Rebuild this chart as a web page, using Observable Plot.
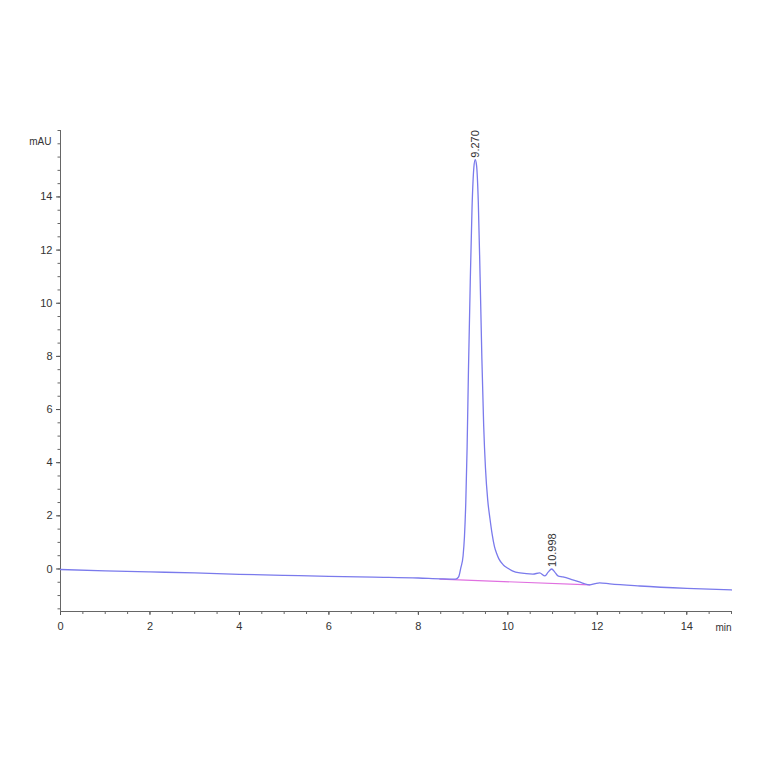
<!DOCTYPE html>
<html>
<head>
<meta charset="utf-8">
<script src="https://cdn.jsdelivr.net/npm/d3@7"></script>
<script src="https://cdn.jsdelivr.net/npm/@observablehq/plot@0.6"></script>
<style>
  html, body { margin: 0; padding: 0; background: #fff; }
  #chart { width: 764px; height: 764px; }
</style>
</head>
<body>
<div id="chart"></div>
<script>
// Chromatogram trace (time in min, absorbance in mAU)
const times = [0, 1, 2, 3, 4, 5, 6, 7, 8, 8.5, 8.8, 8.85, 8.9, 8.95, 9.0, 9.03, 9.06, 9.09, 9.12, 9.16, 9.2, 9.24, 9.27, 9.3, 9.34, 9.38, 9.42, 9.46, 9.5, 9.55, 9.6, 9.65, 9.7, 9.75, 9.8, 9.9, 10.0, 10.1, 10.27, 10.56, 10.71, 10.83, 10.9, 10.98, 11.05, 11.12, 11.23, 11.45, 11.67, 11.83, 11.95, 12.05, 12.28, 12.95, 14, 15];
const mAU   = [-0.02, -0.07, -0.11, -0.15, -0.2, -0.24, -0.28, -0.31, -0.34, -0.37, -0.38, -0.37, -0.3, 0.05, 0.5, 1.2, 2.5, 4.6, 7.5, 10.8, 13.6, 15.1, 15.4, 15.2, 13.8, 11.0, 7.9, 5.4, 3.8, 2.6, 1.9, 1.3, 0.85, 0.58, 0.38, 0.15, 0.03, -0.07, -0.15, -0.19, -0.15, -0.26, -0.12, 0.0, -0.12, -0.26, -0.3, -0.41, -0.53, -0.6, -0.55, -0.52, -0.56, -0.64, -0.73, -0.79];

// Integration baseline (pink)
const baseTimes = [8.48, 11.83];
const baseValues = [-0.38, -0.6];

// Peak annotations
const peakTimes = [9.270, 10.998];
const peakValues = [15.4, 0.0];
const peakLabels = ["9.270", "10.998"];

// Axes
const xDomain = [0, 15];
const yDomain = [-1.6, 16.5];
const xMajor = [0, 2, 4, 6, 8, 10, 12, 14];
const xMinor = d3.range(0, 15.01, 0.5);
const yMajor = [0, 2, 4, 6, 8, 10, 12, 14];
const yMinor = d3.range(-1.5, 16.51, 0.5);

const trace = times.map((t, i) => ({t, v: mAU[i]}));
const baseline = baseTimes.map((t, i) => ({t, v: baseValues[i]}));
const peaks = peakTimes.map((t, i) => ({t, v: peakValues[i], label: peakLabels[i]}));

const font = "'Liberation Sans', Arial, sans-serif";
const blank = () => "";

const chart = Plot.plot({
  width: 764,
  height: 764,
  marginLeft: 60,
  marginRight: 33,
  marginTop: 130,
  marginBottom: 153,
  style: {fontFamily: font, fontSize: "11px", color: "#333", background: "#fff"},
  x: {domain: xDomain},
  y: {domain: yDomain},
  marks: [
    Plot.axisX({ticks: xMinor, tickFormat: blank, tickSize: 3, label: null, stroke: "#666"}),
    Plot.axisX({ticks: xMajor, tickSize: 4, tickPadding: 7, label: null, stroke: "#555", fill: "#333"}),
    Plot.axisY({ticks: yMinor, tickFormat: blank, tickSize: 2.5, label: null, stroke: "#666"}),
    Plot.axisY({ticks: yMajor, tickSize: 4, tickPadding: 4, label: null, stroke: "#555", fill: "#333"}),
    Plot.ruleX([xDomain[0]], {stroke: "#666", strokeWidth: 1}),
    Plot.ruleY([yDomain[0]], {stroke: "#666", strokeWidth: 1}),
    Plot.line(baseline, {x: "t", y: "v", stroke: "#e070e0", strokeWidth: 1.2}),
    Plot.line(trace, {x: "t", y: "v", stroke: "#7a7aec", strokeWidth: 1.3, curve: "monotone-x"}),
    Plot.text(peaks, {x: "t", y: "v", text: "label", rotate: -90, textAnchor: "start", dy: -2, fill: "#333", fontSize: 11}),
    Plot.text(["mAU"], {frameAnchor: "top-left", text: d => d, textAnchor: "end", dx: -9, dy: 7, fill: "#333", fontSize: 10}),
    Plot.text(["min"], {frameAnchor: "bottom-right", text: d => d, textAnchor: "end", dx: 0, dy: 19, fill: "#333", fontSize: 10})
  ]
});
document.getElementById("chart").appendChild(chart);
</script>
</body>
</html>
